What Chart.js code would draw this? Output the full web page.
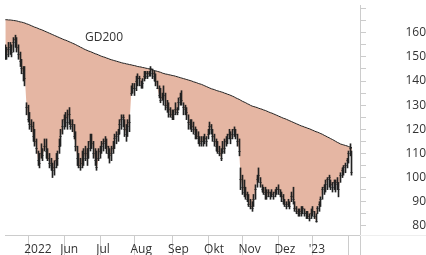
<!DOCTYPE html>
<html>
<head>
<meta charset="utf-8">
<script src="https://cdn.jsdelivr.net/npm/chart.js@4/dist/chart.umd.min.js"></script>
<style>
html,body{margin:0;padding:0;background:#fff;}
#wrap{width:426px;height:255px;}
</style>
</head>
<body>
<div id="wrap"><canvas id="c" width="426" height="255"></canvas></div>
<script>
// trading-day series (index = trading day)
const closes = [152,151,153,154,152,156,157,154,151,148,145,143,141,129,124,122,121,117,115,112,107,106,110,109,113,111,108,106,105,103,
104,107,108,113,117,121,124,125,123,126,121,122,117,113,108,105,104,106,108,110,108,112,115,114,110,107,104,108,111,113,
114,115,113,110,109,110,112,116,117,118,122,124,125,120,118,121,123,135,137,137,140,141,141,138,139,142,143,142,143,145,
143,142,140,137,134,132,133,134,130,129,128,126,125,126,128,127,131,133,132,129,128,127,123,122,121,120,118,117,116,114,
115,115,116,115,118,121,120,117,115,113,111,110,108,111,112,115,116,118,116,118,120,118,115,111,99,96,94,93,91,89,
88,87,91,95,99,101,98,95,94,93,92,94,92,93,92,94,95,95,93,92,90,89,88,89,88,92,91,87,86,85,
85,86,87,85,85,84,83,85,86,84,82,87,89,91,95,96,97,99,100,97,96,98,97,98,95,101,103,104,105,107,
110,112,102];
const highs = [155,154,156,156,155,158,159,158,155,152,149,146,146,131,130,127,124,123,120,116,111,110,114,112,116,116,112,110,108,106,
107,110,111,116,120,124,126,127,128,129,124,124,122,119,113,110,108,111,112,113,112,115,118,118,115,112,111,112,113,115,
116,117,116,113,112,113,115,118,119,120,124,126,126,124,122,124,126,138,139,139,142,143,142,140,141,144,144,144,144,146,
145,144,143,140,138,137,135,138,135,132,131,129,128,128,131,129,133,135,136,131,130,129,126,124,124,123,121,120,119,117,
117,117,118,117,120,123,122,120,118,116,115,113,112,115,116,117,118,120,119,120,121,120,118,116,104,101,99,96,94,93,
91,90,93,97,101,104,100,97,96,96,95,95,94,95,94,95,96,97,95,94,93,91,90,91,90,94,96,90,88,87,
87,88,88,87,86,86,85,87,88,86,85,88,90,92,96,97,99,100,101,99,98,99,99,100,98,102,104,105,106,108,
111,114,111];
const lows = [149,149,150,151,150,152,154,152,149,146,143,140,138,126,123,120,119,115,113,110,105,104,108,107,111,108,107,104,103,100,
101,104,105,110,113,118,120,121,120,122,120,119,116,111,105,104,103,104,105,107,105,108,111,112,108,105,103,107,108,110,
111,112,110,108,106,107,110,112,114,115,118,120,121,117,115,117,119,134,135,134,136,138,138,137,137,140,141,141,142,142,
141,140,138,137,133,131,132,130,128,127,125,125,124,124,126,126,128,130,130,126,126,124,120,120,119,118,116,116,114,113,
113,113,114,113,116,118,118,115,113,111,110,109,107,110,110,113,114,116,114,116,117,116,113,109,95,93,92,91,90,88,
87,86,88,91,96,98,96,94,93,91,91,92,91,92,91,92,93,93,92,90,89,88,87,88,87,90,89,86,85,84,
84,84,85,84,83,83,82,83,84,83,81.5,85,86,88,91,93,94,95,96,95,94,95,94,95,92,98,100,101,102,104,
106,109,101];
const gd200 = [165.4,165.4,165.3,165.3,165.2,165.1,165.0,164.9,164.7,164.5,164.4,164.2,164.0,163.7,163.5,163.2,162.9,162.6,162.3,162.1,
161.8,161.5,161.3,161.0,160.7,160.4,160.1,159.8,159.5,159.2,158.9,158.6,158.3,158.0,157.7,157.4,157.1,156.9,156.6,156.3,
156.0,155.7,155.4,155.1,154.7,154.4,154.0,153.7,153.3,153.0,152.7,152.4,152.2,151.9,151.6,151.3,151.1,150.8,150.5,150.2,
150.0,149.8,149.5,149.3,149.0,148.8,148.6,148.4,148.2,148.0,147.8,147.6,147.4,147.3,147.1,147.0,146.8,146.7,146.5,146.4,
146.2,146.0,145.9,145.8,145.6,145.5,145.3,145.2,145.0,144.8,144.6,144.4,144.2,144.0,143.8,143.6,143.3,143.1,142.9,142.8,
142.6,142.5,142.3,142.2,142.0,141.8,141.6,141.4,141.2,141.0,140.8,140.6,140.4,140.2,140.0,139.7,139.5,139.3,139.0,138.8,
138.6,138.3,138.0,137.7,137.4,137.1,136.8,136.6,136.4,136.1,135.9,135.7,135.5,135.3,135.0,134.8,134.5,134.3,134.0,133.7,
133.4,133.0,132.7,132.4,132.0,131.6,131.3,131.0,130.6,130.3,129.9,129.6,129.4,129.2,129.0,128.7,128.5,128.3,128.0,127.8,
127.5,127.2,126.9,126.7,126.4,126.1,125.8,125.5,125.2,124.9,124.6,124.4,124.1,123.8,123.5,123.2,122.9,122.6,122.3,122.0,
121.7,121.4,121.2,120.9,120.7,120.4,120.2,119.9,119.6,119.3,119.0,118.8,118.5,118.2,117.9,117.5,117.2,116.8,116.5,116.1,
115.8,115.4,115.0,114.6,114.3,113.9,113.7,113.5,113.3,113.1,112.8,112.6,112.4];
// month axis: first trading day index of each month and its label
const monthStarts = [14,36,58,79,102,124,145,167,188,210];
const monthLabels = ['2022','Jun','Jul','Aug','Sep','Okt','Nov','Dez',"'23",''];
const yTickLabels = [80,90,100,110,120,130,140,150,160];
const seriesName = 'GD200';

const X_MIN = -0.2, X_MAX = 216.9;

const closePts = closes.map((v,i)=>({x:i,y:v}));
const gdPts = gd200.map((v,i)=>({x:i,y:v}));
const rangePts = closes.map((v,i)=>({x:i,y:[lows[i],highs[i]]}));

const ink = '#222222';
const axisGray = '#cccccc';

Chart.defaults.font.family = '"Open Sans", sans-serif';
Chart.defaults.font.size = 12;
Chart.defaults.color = '#333';

const snap = v => Math.round(v - 0.5) + 0.5;

const labelPlugin = {
  id: 'gdLabel',
  beforeDatasetsDraw(chart){
    // pixel-snap the OHLC marks computed by the scales so they render crisp
    [2,3].forEach(di => {
      chart.getDatasetMeta(di).data.forEach(el => {
        el.x = snap(el.x);
        if (di === 3) el.y = snap(el.y);
      });
    });
  },
  afterDatasetsDraw(chart){
    const ctx = chart.ctx;
    ctx.save();
    ctx.font = '12px "Open Sans", sans-serif';
    ctx.fillStyle = '#333';
    ctx.textBaseline = 'alphabetic';
    ctx.textAlign = 'left';
    ctx.fillText(seriesName, 85, 41);
    ctx.restore();
  },
  afterDraw(chart){
    const ctx = chart.ctx, a = chart.chartArea;
    ctx.save();
    ctx.strokeStyle = '#eeeeee';
    ctx.lineWidth = 1;
    ctx.beginPath();
    ctx.moveTo(a.right, a.bottom + 0.5);
    ctx.lineTo(chart.width, a.bottom + 0.5);
    ctx.stroke();
    ctx.restore();
  }
};

new Chart(document.getElementById('c'), {
  type: 'line',
  data: {
    datasets: [
      { // area between price and GD200
        type: 'line', data: closePts, borderWidth: 0, borderColor: 'rgba(0,0,0,0)',
        pointRadius: 0, backgroundColor: '#e5b6a3', fill: '+1', order: 3, tension: 0
      },
      {
        type: 'line', label: seriesName, data: gdPts, borderColor: ink, borderWidth: 1,
        pointRadius: 0, fill: false, order: 2, tension: 0
      },
      {
        type: 'bar', data: rangePts, backgroundColor: ink, borderWidth: 0,
        barThickness: 1, order: 1
      },
      {
        type: 'scatter', data: closePts, pointStyle: 'line', radius: 1,
        borderColor: ink, borderWidth: 1, order: 0
      }
    ]
  },
  options: {
    responsive: false,
    animation: false,
    devicePixelRatio: 1,
    layout: { padding: 0 },
    plugins: { legend: { display: false }, tooltip: { enabled: false } },
    scales: {
      x: {
        type: 'linear', min: X_MIN, max: X_MAX, offset: false,
        grid: { drawOnChartArea: false, drawTicks: true, tickLength: 20, color: axisGray, offset: false },
        border: { display: true, color: axisGray },
        ticks: {
          autoSkip: false, maxRotation: 0, align: 'start', padding: -13, labelOffset: -4,
          color: '#333', font: { size: 12 },
          callback: (v) => { const k = monthStarts.indexOf(v); return k >= 0 ? monthLabels[k] : ''; }
        },
        afterBuildTicks: (s) => { s.ticks = monthStarts.map(v => ({value: v})).concat([{value: X_MAX}]); },
        afterFit: (s) => { s.height = 20; }
      },
      y: {
        type: 'linear', position: 'right', min: 76.2, max: 171.5,
        grid: { drawOnChartArea: false, drawTicks: true, tickLength: 6, color: axisGray },
        border: { display: true, color: axisGray },
        ticks: {
          autoSkip: false, includeBounds: false, stepSize: 5, maxTicksLimit: 40, padding: -7, crossAlign: 'far',
          color: '#333', font: { size: 12 },
          callback: (v) => yTickLabels.includes(Math.round(v)) && Math.abs(v - Math.round(v)) < 1e-6 ? String(Math.round(v)) : ''
        },
        afterBuildTicks: (s) => { s.ticks = s.ticks.filter(t => Math.abs(t.value / 5 - Math.round(t.value / 5)) < 1e-6); },
        afterFit: (s) => { s.width = 66; }
      }
    }
  },
  plugins: [labelPlugin]
});
</script>
</body>
</html>
